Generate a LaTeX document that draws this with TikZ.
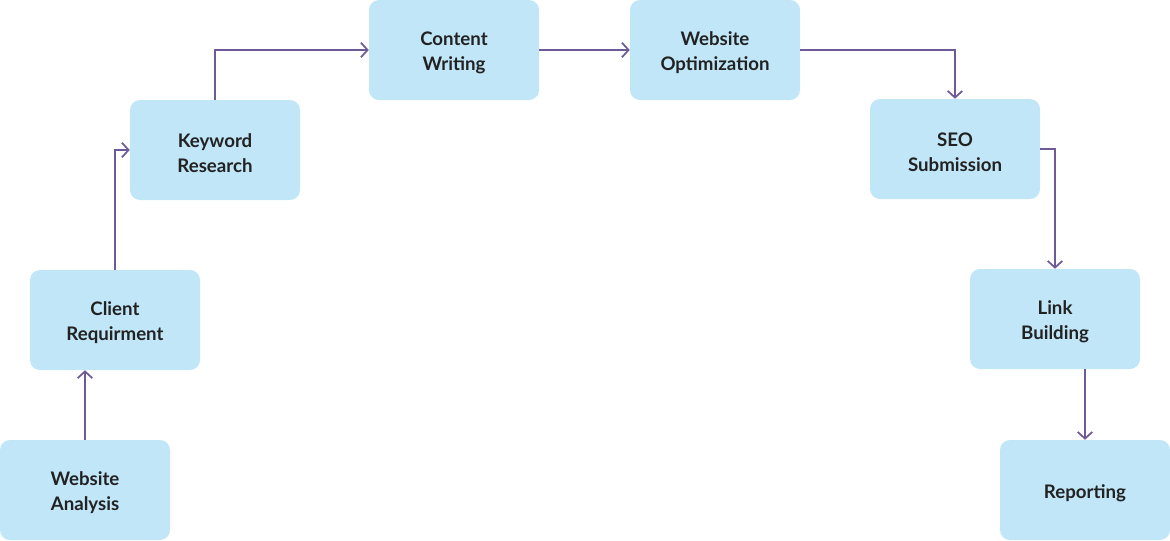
\documentclass[tikz,border=0pt]{standalone}
\usepackage{fontspec}
\setmainfont{Lato}
\usetikzlibrary{arrows.meta}
\definecolor{boxfill}{HTML}{C0E6F8}
\definecolor{linecol}{HTML}{6E5A96}
\definecolor{txt}{HTML}{222222}
\begin{document}
\begin{tikzpicture}[x=0.75pt,y=-0.75pt,
  stepbox/.style={fill=boxfill, rounded corners=7.5pt, minimum width=127.5pt, minimum height=75pt, inner sep=0pt},
  steptext/.style={align=center, text=txt, font=\fontsize{14}{18.75}\selectfont\bfseries, inner sep=0pt},
  conn/.style={draw=linecol, line width=1.5pt, -{Straight Barb[length=5pt,width=11pt,line width=1.3pt]}}]
\useasboundingbox (0,0) rectangle (1170,540);
\node[stepbox] (wa) at (85,490) {};
\node[stepbox] (cr) at (115,320) {};
\node[stepbox] (kr) at (215,150) {};
\node[stepbox] (cw) at (454,50) {};
\node[stepbox] (wo) at (715,50) {};
\node[stepbox] (seo) at (955,149) {};
\node[stepbox] (lb) at (1055,319) {};
\node[stepbox] (rp) at (1085,490) {};
\node[steptext] (wa-t) at ([yshift=-2.25pt]wa.center) {Website\\Analysis};
\node[steptext] (cr-t) at ([yshift=-2.25pt]cr.center) {Client\\Requirment};
\node[steptext] (kr-t) at ([yshift=-2.25pt]kr.center) {Keyword\\Research};
\node[steptext] (cw-t) at ([yshift=-2.25pt]cw.center) {Content\\Writing};
\node[steptext] (wo-t) at ([yshift=-2.25pt]wo.center) {Website\\Optimization};
\node[steptext] (seo-t) at ([yshift=-2.25pt]seo.center) {SEO\\Submission};
\node[steptext] (lb-t) at ([yshift=-2.25pt]lb.center) {Link\\Building};
\node[steptext] (rp-t) at ([yshift=-2.25pt]rp.center) {Reporting};
\draw[conn] (wa.north) -- (wa.north |- cr.south);
\draw[conn] (cr.north) |- (kr.west);
\draw[conn] (kr.north) |- (cw.west);
\draw[conn] (cw.east) -- (wo.west);
\draw[conn] (wo.east) -| (seo.north);
\draw[conn] (seo.east) -| (lb.north);
\draw[conn] (rp.north |- lb.south) -- (rp.north);
\end{tikzpicture}
\end{document}
